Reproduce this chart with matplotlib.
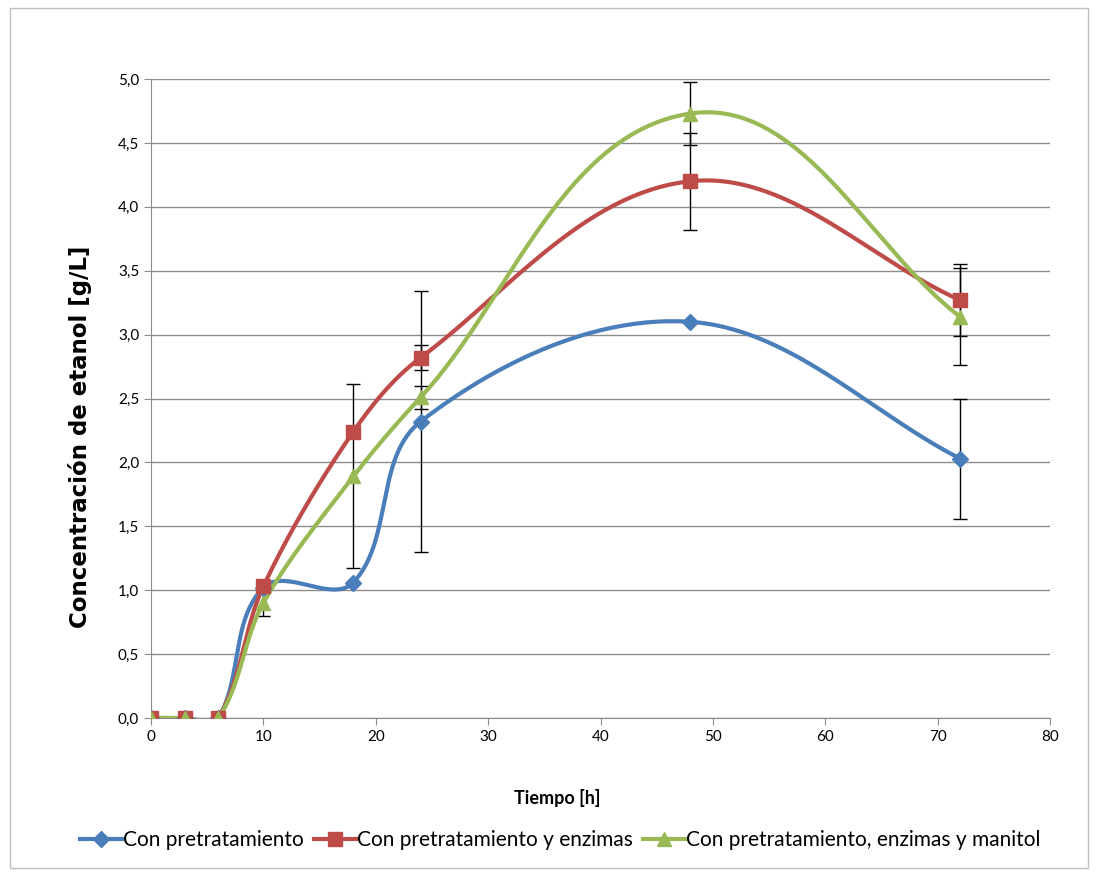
import matplotlib
matplotlib.use("Agg")
import matplotlib.pyplot as plt
from matplotlib.ticker import FuncFormatter, MultipleLocator
import numpy as np

# data
tiempo = [0, 3, 6, 10, 18, 24, 48, 72]
pretrat = [0, 0, 0, 1.02, 1.06, 2.32, 3.10, 2.03]
pretrat_enz = [0, 0, 0, 1.03, 2.24, 2.82, 4.20, 3.27]
pretrat_enz_man = [0, 0, 0, 0.90, 1.89, 2.51, 4.73, 3.14]

err_pretrat = [0, 0, 0, 0, 0, 1.02, 0, 0.47]
err_pretrat_enz = [0, 0, 0, 0, 0, 0.10, 0.38, 0.28]
err_pretrat_enz_man = [0, 0, 0, 0.10, 0.72, 0.09, 0.25, 0.38]

labels = ["Con pretratamiento", "Con pretratamiento y enzimas",
          "Con pretratamiento, enzimas y manitol"]
colors = ["#4A7EBB", "#BE4B48", "#98B954"]
markers = ["D", "s", "^"]
msizes = [8, 10, 10]

# plot area in pixels
X0, X1, Y0, Y1 = 151, 1050, 718, 79
XMAX, YMAX = 80, 5


def smooth(x, y, n=60):
    # Excel-like smoothed line, bezier segments, tangents scaled by segment length (screen space)
    sx = (X1 - X0) / XMAX
    sy = (Y0 - Y1) / YMAX
    p = np.column_stack([np.asarray(x, float) * sx, np.asarray(y, float) * sy])
    p = np.vstack([p[0], p, p[-1]])
    out = []
    t = np.linspace(0, 1, n)[:, None]

    def unit(v):
        d = np.hypot(*v)
        return v / d if d > 0 else v

    for i in range(1, len(p) - 2):
        p0, p1, p2, p3 = p[i - 1], p[i], p[i + 1], p[i + 2]
        L = np.hypot(*(p2 - p1))
        b1 = p1 + unit(p2 - p0) * L / 3
        b2 = p2 - unit(p3 - p1) * L / 3
        seg = ((1 - t) ** 3) * p1 + 3 * ((1 - t) ** 2) * t * b1 + 3 * (1 - t) * t ** 2 * b2 + t ** 3 * p2
        out.append(seg)
    out = np.vstack(out)
    return out[:, 0] / sx, out[:, 1] / sy


plt.rcParams['font.family'] = ['Lato', 'DejaVu Sans']

fig = plt.figure(figsize=(10.99, 8.74), dpi=100)
ax = fig.add_axes([X0 / 1099, 1 - Y0 / 874, (X1 - X0) / 1099, (Y0 - Y1) / 874])

series = [pretrat, pretrat_enz, pretrat_enz_man]
errors = [err_pretrat, err_pretrat_enz, err_pretrat_enz_man]
for vals, errs, c, m, ms, lab in zip(series, errors, colors, markers, msizes, labels):
    sx, sy = smooth(tiempo, vals)
    ax.plot(sx, sy, color=c, lw=3, zorder=3, solid_capstyle='round')
    ax.plot(tiempo, vals, ls='none', marker=m, ms=ms, color=c, zorder=4)
    ax.plot([], [], color=c, lw=3, marker=m, ms=ms, label=lab)
    xe = [t for t, e in zip(tiempo, errs) if e > 0]
    ye = [v for v, e in zip(vals, errs) if e > 0]
    ee = [e for e in errs if e > 0]
    ax.errorbar(xe, ye, yerr=ee, fmt='none', ecolor='black', elinewidth=1,
                capsize=5, capthick=1, zorder=2)

ax.set_xlim(0, XMAX)
ax.set_ylim(0, YMAX)
ax.xaxis.set_major_locator(MultipleLocator(10))
ax.yaxis.set_major_locator(MultipleLocator(0.5))
ax.yaxis.set_major_formatter(FuncFormatter(lambda v, p: f"{v:.1f}".replace('.', ',')))
ax.grid(axis='y', color='#8c8c8c', lw=1)
ax.set_axisbelow(True)
for s in ['top', 'right']:
    ax.spines[s].set_visible(False)
for s in ['left', 'bottom']:
    ax.spines[s].set_color('#8c8c8c')
ax.tick_params(colors='#8c8c8c', labelcolor='black', labelsize=11, length=5)

ax.set_xlabel("Tiempo [h]", fontsize=13, fontweight='bold')
ax.xaxis.set_label_coords((557 - X0) / (X1 - X0), (Y0 - 789) / (Y0 - Y1))
ax.set_ylabel("Concentración de etanol [g/L]", fontsize=16.5, fontweight='bold',
              family=['DejaVu Sans'])
ax.yaxis.set_label_coords((92 - X0) / (X1 - X0), (Y0 - 437) / (Y0 - Y1))

fig.legend(loc='center', bbox_to_anchor=(0.51, 1 - 840 / 874), ncol=3, frameon=False,
           fontsize=15, handlelength=2.0, handletextpad=0.05, columnspacing=0.5)

border = plt.Rectangle((10 / 1099, 1 - 868 / 874), 1078 / 1099, 860 / 874,
                       transform=fig.transFigure, fill=False, ec='#bfbfbf', lw=1)
fig.patches.append(border)

fig.savefig("out.png", dpi=100)
